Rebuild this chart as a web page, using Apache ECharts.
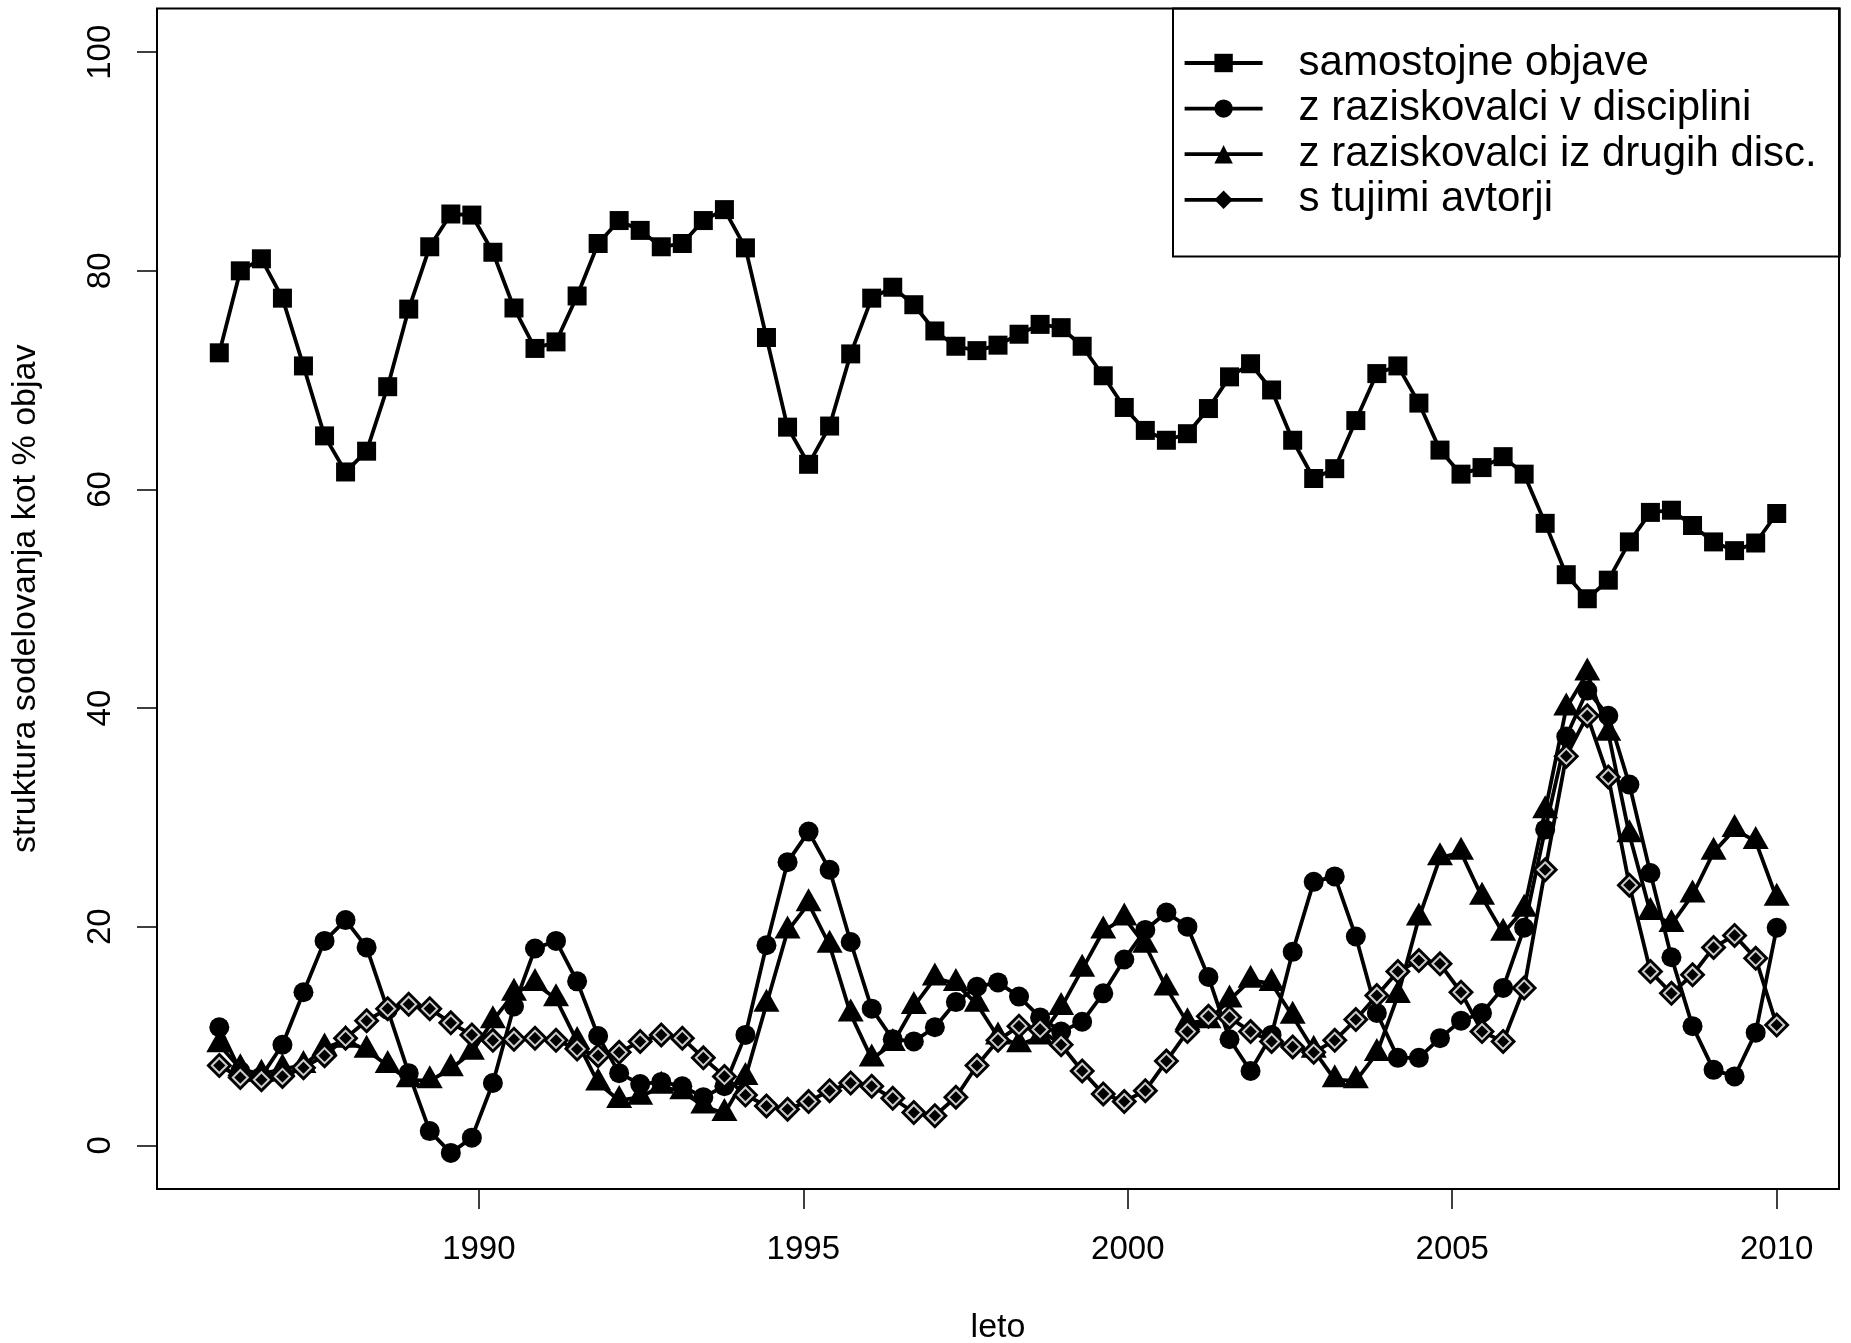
<!DOCTYPE html>
<html>
<head>
<meta charset="utf-8">
<script src="https://cdn.jsdelivr.net/npm/echarts@6/dist/echarts.min.js"></script>
<style>
    html, body { margin: 0; padding: 0; background: #fff; }
    #chart { width: 1851px; height: 1343px; }
</style>
</head>
<body>
<div id="chart"></div>
<script>
// leta (75 enakomerno razporejenih tock med 1986 in 2010)
var leta = [
    1986.000, 1986.324, 1986.649, 1986.973, 1987.297, 1987.622, 1987.946, 1988.270, 1988.595, 1988.919,
    1989.243, 1989.568, 1989.892, 1990.216, 1990.541, 1990.865, 1991.189, 1991.514, 1991.838, 1992.162,
    1992.486, 1992.811, 1993.135, 1993.459, 1993.784, 1994.108, 1994.432, 1994.757, 1995.081, 1995.405,
    1995.730, 1996.054, 1996.378, 1996.703, 1997.027, 1997.351, 1997.676, 1998.000, 1998.324, 1998.649,
    1998.973, 1999.297, 1999.622, 1999.946, 2000.270, 2000.595, 2000.919, 2001.243, 2001.568, 2001.892,
    2002.216, 2002.541, 2002.865, 2003.189, 2003.514, 2003.838, 2004.162, 2004.486, 2004.811, 2005.135,
    2005.459, 2005.784, 2006.108, 2006.432, 2006.757, 2007.081, 2007.405, 2007.730, 2008.054, 2008.378,
    2008.703, 2009.027, 2009.351, 2009.676, 2010.000
];

var samostojne = [
    72.5, 80.0, 81.1, 77.5, 71.3, 64.9, 61.6, 63.5, 69.4, 76.5,
    82.2, 85.2, 85.1, 81.7, 76.6, 72.9, 73.5, 77.7, 82.5, 84.6,
    83.7, 82.2, 82.5, 84.6, 85.6, 82.1, 73.9, 65.7, 62.3, 65.8,
    72.4, 77.5, 78.5, 76.9, 74.5, 73.1, 72.7, 73.2, 74.2, 75.1,
    74.8, 73.1, 70.4, 67.5, 65.4, 64.5, 65.1, 67.4, 70.3, 71.5,
    69.1, 64.5, 61.0, 61.9, 66.3, 70.6, 71.3, 67.9, 63.6, 61.4,
    62.0, 63.0, 61.4, 56.9, 52.2, 50.0, 51.7, 55.2, 57.9, 58.1,
    56.7, 55.2, 54.4, 55.1, 57.8
];

var vDisciplini = [
    10.8, 6.8, 6.3, 9.2, 14.0, 18.7, 20.6, 18.1, 12.4, 6.6,
    1.3, -0.7, 0.7, 5.7, 12.7, 18.0, 18.7, 15.0, 10.0, 6.6,
    5.6, 5.8, 5.4, 4.4, 5.4, 10.1, 18.3, 25.9, 28.7, 25.2,
    18.6, 12.5, 9.7, 9.5, 10.8, 13.1, 14.5, 14.9, 13.6, 11.7,
    10.4, 11.3, 13.9, 17.0, 19.7, 21.3, 20.0, 15.4, 9.7, 6.8,
    10.1, 17.7, 24.1, 24.6, 19.1, 12.1, 8.0, 8.0, 9.8, 11.4,
    12.1, 14.4, 19.9, 28.9, 37.4, 41.6, 39.3, 33.0, 24.9, 17.2,
    10.9, 6.9, 6.3, 10.3, 19.9
];

var izDrugih = [
    9.2, 7.0, 6.5, 7.0, 7.3, 8.9, 9.6, 8.7, 7.3, 6.0,
    5.9, 7.0, 8.5, 11.4, 13.9, 14.8, 13.4, 9.5, 5.7, 4.1,
    4.4, 5.4, 4.9, 3.6, 2.9, 6.2, 12.9, 19.6, 22.1, 18.3,
    12.0, 7.9, 9.3, 12.7, 15.3, 14.8, 12.9, 9.9, 9.2, 9.9,
    12.6, 16.1, 19.6, 20.8, 18.3, 14.4, 11.2, 11.4, 13.3, 15.1,
    14.8, 11.8, 8.7, 6.0, 5.9, 8.4, 13.7, 20.8, 26.3, 26.8,
    22.7, 19.4, 21.6, 30.6, 40.0, 43.2, 37.7, 28.4, 21.3, 20.2,
    22.9, 26.8, 28.9, 27.8, 22.6
];

var tujiAvtorji = [
    7.3, 6.2, 6.0, 6.3, 7.1, 8.2, 9.8, 11.4, 12.5, 12.9,
    12.5, 11.2, 10.1, 9.6, 9.7, 9.8, 9.6, 8.8, 8.2, 8.5,
    9.5, 10.1, 9.8, 8.0, 6.3, 4.6, 3.6, 3.3, 4.0, 5.0,
    5.7, 5.4, 4.3, 3.0, 2.7, 4.4, 7.3, 9.6, 10.9, 10.6,
    9.2, 6.8, 4.7, 4.0, 5.0, 7.7, 10.4, 11.8, 11.7, 10.4,
    9.5, 9.0, 8.5, 9.6, 11.5, 13.7, 15.9, 16.9, 16.6, 14.0,
    10.4, 9.5, 14.4, 25.2, 35.6, 39.3, 33.7, 23.8, 15.9, 13.9,
    15.6, 18.1, 19.2, 17.1, 11.0
];

var xTicks = [1990, 1995, 2000, 2005, 2010];
var yTicks = [0, 20, 40, 60, 80, 100];
var imena = ['samostojne objave', 'z raziskovalci v disciplini', 'z raziskovalci iz drugih disc.', 's tujimi avtorji'];

var pisava = '"Liberation Sans", Arial, Helvetica, sans-serif';
var debelina = 3.8;

function pari(vals) {
    return leta.map(function (x, i) { return [x, vals[i]]; });
}

function serija(name, vals, symbol, size, offset) {
    return {
        name: name,
        type: 'line',
        data: pari(vals),
        symbol: symbol,
        symbolSize: size,
        symbolOffset: offset || [0, 0],
        showSymbol: true,
        lineStyle: { color: '#000', width: debelina },
        itemStyle: { color: '#000' },
        emphasis: { disabled: true },
        z: 2
    };
}

var chart = echarts.init(document.getElementById('chart'));

var option = {
    animation: false,
    backgroundColor: '#fff',
    grid: {
        left: 157, right: 12, top: 8.5, bottom: 154,
        outerBoundsMode: 'none', containLabel: false,
        show: true, borderColor: '#000', borderWidth: 2
    },
    legend: {
        data: imena,
        orient: 'vertical',
        left: 1173, top: 8.5,
        padding: [31.7, 23, 34, 9.7],
        itemWidth: 78, itemHeight: 23, itemGap: 0,
        borderColor: '#000', borderWidth: 2,
        lineStyle: { width: debelina, color: '#000' },
        textStyle: { fontSize: 42, color: '#000', fontFamily: pisava, lineHeight: 45.6, padding: [0, 0, 0, 31] },
        selectedMode: false
    },
    xAxis: {
        type: 'value',
        min: 1985.04, max: 2010.96,
        splitLine: { show: false },
        axisLine: { show: false, onZero: false },
        axisTick: { show: true, inside: false, length: 20, lineStyle: { color: '#000', width: 1.5 }, customValues: xTicks },
        axisLabel: {
            customValues: xTicks, margin: 44, fontSize: 33, color: '#000', fontFamily: pisava,
            formatter: function (v) { return String(v); }
        },
        name: 'leto', nameLocation: 'middle', nameGap: 122,
        nameTextStyle: { fontSize: 34, color: '#000', fontFamily: pisava }
    },
    yAxis: {
        type: 'value',
        min: -4, max: 104,
        splitLine: { show: false },
        axisLine: { show: false, onZero: false },
        axisTick: { show: true, inside: false, length: 20, lineStyle: { color: '#000', width: 1.5 }, customValues: yTicks },
        axisLabel: {
            customValues: yTicks, rotate: 90, margin: 40, fontSize: 33, color: '#000', fontFamily: pisava,
            formatter: function (v) { return String(v); }
        },
        name: 'struktura sodelovanja kot % objav', nameLocation: 'middle', nameGap: 114, nameRotate: 90,
        nameTextStyle: { fontSize: 34, color: '#000', fontFamily: pisava }
    },
    series: [
        serija(imena[0], samostojne, 'rect', 19),
        serija(imena[1], vDisciplini, 'circle', 20),
        serija(imena[2], izDrugih, 'triangle', [26, 23], [0, -4]),
        serija(imena[3], tujiAvtorji, 'diamond', 26),
        {
            // notranji del rombov (bel obroc)
            name: 'romb', type: 'scatter',
            data: pari(tujiAvtorji),
            symbol: 'diamond', symbolSize: 15,
            itemStyle: { color: '#000', borderColor: '#fff', borderWidth: 2 },
            emphasis: { disabled: true },
            silent: true,
            z: 5
        }
    ]
};

chart.setOption(option);
</script>
</body>
</html>
